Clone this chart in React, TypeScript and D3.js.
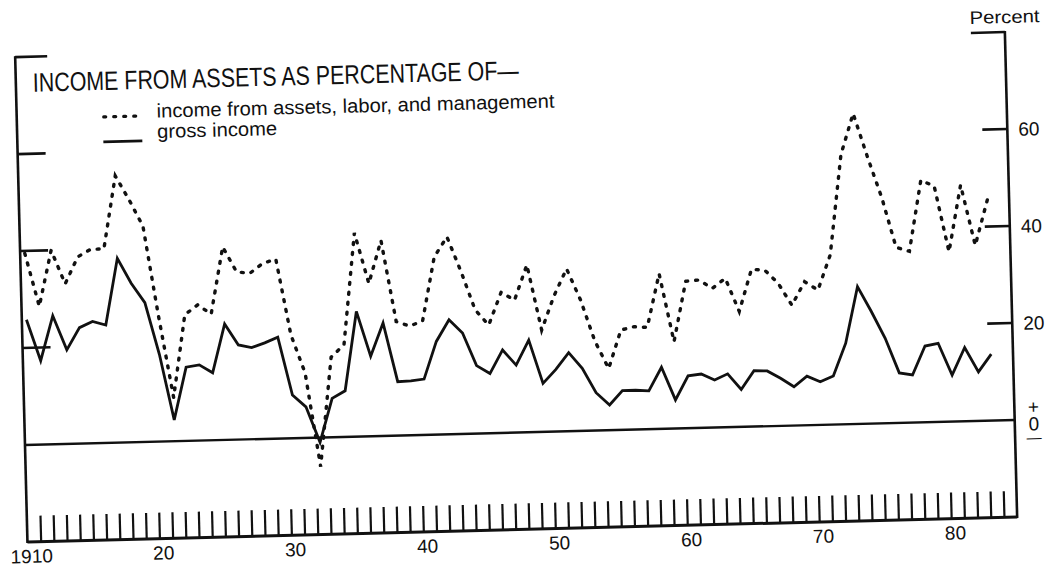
import { useEffect, useRef } from 'react';
import * as d3 from 'd3';

const WIDTH = 1050;
const HEIGHT = 567;

// the scanned page is tilted a little: right side sits higher
const TILT = -1.45;

const title = 'INCOME FROM ASSETS AS PERCENTAGE OF—';
const seriesNames = ['income from assets, labor, and management', 'gross income'];
const unitLabel = 'Percent';

const firstYear = 1910;
const lastYearEdge = 1985;

// income from assets as % of income from assets, labor, and management (dotted)
const assetsLaborMgmt = [
  39.5, 28.5, 40, 33, 38.5, 40, 40, 55, 50, 44.5,
  26, 9, 26, 28, 26, 39.8, 34.6, 34.2, 36.2, 37,
  21.3, 13.4, -6, 16.5, 19, 42, 31.5, 40.3, 23.5, 22.5,
  23.5, 36.6, 40.7, 33.5, 25.5, 22.3, 29, 27.3, 34.5, 21,
  28, 33.5, 27, 18.5, 12.7, 20.6, 21.2, 21, 32, 17.9,
  30.3, 30.5, 28.7, 30.7, 23.8, 32.4, 32.2, 29.4, 24.8, 29.6,
  27.8, 35, 55.6, 64, 55, 46.6, 36.2, 35.3, 49.9, 48.6,
  35, 48.7, 36.2, 45.5,
];

// income from assets as % of gross income (solid)
const grossIncome = [
  25.8, 17.3, 26.5, 19.4, 23.9, 25.1, 24.3, 38, 32.8, 28.7,
  18, 4.4, 15.2, 15.6, 13.9, 23.9, 19.5, 18.9, 19.8, 20.9,
  8.9, 6.4, -1, 8, 9.5, 25.8, 16.5, 23.3, 11.1, 11.2,
  11.5, 19.2, 23.6, 20.8, 14, 12.3, 17.1, 13.9, 19, 10,
  12.8, 16.2, 12.9, 7.8, 5.2, 8.1, 8.1, 7.9, 12.7, 5.9,
  10.8, 11.1, 9.8, 11, 7.7, 11.5, 11.4, 9.8, 8, 10.1,
  8.9, 10, 16.7, 28.3, 23.1, 17.5, 10.3, 9.8, 15.7, 16.2,
  9.6, 15.2, 10.1, 13.7,
];

const yearLabelValues = [1910, 1920, 1930, 1940, 1950, 1960, 1970, 1980];
const yearLabels = ['1910', '20', '30', '40', '50', '60', '70', '80'];
const leftTicks = [20, 40, 60, 80];
const rightTicks = [20, 40, 60];
const rightTickLabels = ['20', '40', '60'];

const FONT = '"Liberation Sans", Arial, Helvetica, sans-serif';
const INK = '#111';

export default function App() {
  const svgRef = useRef<SVGSVGElement | null>(null);

  useEffect(() => {
    const svg = d3.select(svgRef.current);
    svg.selectAll('*').remove();

    const x = d3.scaleLinear().domain([firstYear, lastYearEdge]).range([25, 1015]);
    const y = d3.scaleLinear().domain([-20, 80]).range([542, 57]);

    const g = svg
      .append('g')
      .attr('transform', `rotate(${TILT}, ${x(firstYear)}, ${y(0)})`);

    const xl = x(firstYear);
    const xr = x(lastYearEdge);

    // frame
    g.append('line')
      .attr('x1', xl).attr('x2', xl)
      .attr('y1', y(80) - 1).attr('y2', y(-20) + 1)
      .attr('stroke', INK).attr('stroke-width', 2.6);
    g.append('line')
      .attr('x1', xr).attr('x2', xr)
      .attr('y1', y(80) - 1).attr('y2', y(-20) + 1)
      .attr('stroke', INK).attr('stroke-width', 2.6);
    g.append('line')
      .attr('x1', xl).attr('x2', xr)
      .attr('y1', y(-20)).attr('y2', y(-20))
      .attr('stroke', INK).attr('stroke-width', 3);
    g.append('line')
      .attr('x1', xl).attr('x2', xr)
      .attr('y1', y(0)).attr('y2', y(0))
      .attr('stroke', INK).attr('stroke-width', 2.4);

    // yearly ticks standing on the bottom line
    const xAxis = d3
      .axisBottom(x)
      .tickValues(d3.range(firstYear + 1, lastYearEdge))
      .tickSizeInner(-26)
      .tickSizeOuter(0)
      .tickFormat(() => '');
    const xAxisGroup = g
      .append('g')
      .attr('transform', `translate(0, ${y(-20)})`)
      .call(xAxis);
    xAxisGroup.select('.domain').remove();
    xAxisGroup.selectAll('line').attr('stroke', INK).attr('stroke-width', 2.2);

    g.selectAll('.year-label')
      .data(yearLabelValues)
      .join('text')
      .attr('class', 'year-label')
      .attr('x', (d) => x(d + 0.3))
      .attr('y', y(-20) + 21)
      .attr('text-anchor', 'middle')
      .attr('font-family', FONT)
      .attr('font-size', 19)
      .attr('fill', INK)
      .text((_, i) => yearLabels[i]);

    // left ticks
    g.selectAll('.left-tick')
      .data(leftTicks)
      .join('line')
      .attr('class', 'left-tick')
      .attr('x1', xl)
      .attr('x2', (d) => xl + (d === 80 ? 32 : 28))
      .attr('y1', (d) => y(d))
      .attr('y2', (d) => y(d))
      .attr('stroke', INK)
      .attr('stroke-width', 2.6);

    // right ticks + labels
    g.selectAll('.right-tick')
      .data([...rightTicks, 80])
      .join('line')
      .attr('class', 'right-tick')
      .attr('x1', (d) => xr - (d === 80 ? 34 : 25))
      .attr('x2', xr)
      .attr('y1', (d) => y(d))
      .attr('y2', (d) => y(d))
      .attr('stroke', INK)
      .attr('stroke-width', 2.6);

    g.selectAll('.right-label')
      .data(rightTicks)
      .join('text')
      .attr('class', 'right-label')
      .attr('x', xr + 11)
      .attr('y', (d) => y(d) + 7)
      .attr('font-family', FONT)
      .attr('font-size', 19)
      .attr('fill', INK)
      .text((_, i) => rightTickLabels[i]);

    // +0- marker next to the zero line
    const signs = [
      { t: '+', dy: -6 },
      { t: '0', dy: 11 },
      { t: '—', dy: 23 },
    ];
    g.selectAll('.sign')
      .data(signs)
      .join('text')
      .attr('class', 'sign')
      .attr('x', xr + 19)
      .attr('y', (d) => y(0) + d.dy)
      .attr('text-anchor', 'middle')
      .attr('font-family', FONT)
      .attr('font-size', (d) => (d.t === '—' ? 15 : 19))
      .attr('fill', INK)
      .text((d) => d.t);

    g.append('text')
      .attr('x', xr - 35)
      .attr('y', y(80) - 9)
      .attr('font-family', FONT)
      .attr('font-size', 18)
      .attr('fill', INK)
      .attr('textLength', 70)
      .attr('lengthAdjust', 'spacingAndGlyphs')
      .text(unitLabel);

    // title + legend
    g.append('text')
      .attr('x', xl + 17)
      .attr('y', 92)
      .attr('font-family', FONT)
      .attr('font-size', 26.5)
      .attr('fill', INK)
      .attr('textLength', 486)
      .attr('lengthAdjust', 'spacingAndGlyphs')
      .text(title);

    g.append('line')
      .attr('x1', xl + 87).attr('x2', xl + 123)
      .attr('y1', 119).attr('y2', 119)
      .attr('stroke', INK).attr('stroke-width', 3.2)
      .attr('stroke-linecap', 'round')
      .attr('stroke-dasharray', '2 8');
    g.append('line')
      .attr('x1', xl + 86).attr('x2', xl + 125)
      .attr('y1', 144).attr('y2', 144)
      .attr('stroke', INK).attr('stroke-width', 2.8);

    g.append('text')
      .attr('x', xl + 140)
      .attr('y', 121)
      .attr('font-family', FONT)
      .attr('font-size', 19.5)
      .attr('fill', INK)
      .attr('textLength', 398)
      .attr('lengthAdjust', 'spacingAndGlyphs')
      .text(seriesNames[0]);
    g.append('text')
      .attr('x', xl + 140)
      .attr('y', 141.5)
      .attr('font-family', FONT)
      .attr('font-size', 19.5)
      .attr('fill', INK)
      .attr('textLength', 120)
      .attr('lengthAdjust', 'spacingAndGlyphs')
      .text(seriesNames[1]);

    // series
    const line = d3
      .line<number>()
      .x((_, i) => x(firstYear + i + 0.35))
      .y((d) => y(d));

    g.append('path')
      .datum(grossIncome)
      .attr('d', line)
      .attr('fill', 'none')
      .attr('stroke', INK)
      .attr('stroke-width', 2.8)
      .attr('stroke-linejoin', 'miter');

    g.append('path')
      .datum(assetsLaborMgmt)
      .attr('d', line)
      .attr('fill', 'none')
      .attr('stroke', INK)
      .attr('stroke-width', 3.4)
      .attr('stroke-linecap', 'round')
      .attr('stroke-dasharray', '2 8');
  }, []);

  return (
    <svg
      ref={svgRef}
      width={WIDTH}
      height={HEIGHT}
      style={{ position: 'absolute', left: 0, top: 0, background: '#fff' }}
    />
  );
}
